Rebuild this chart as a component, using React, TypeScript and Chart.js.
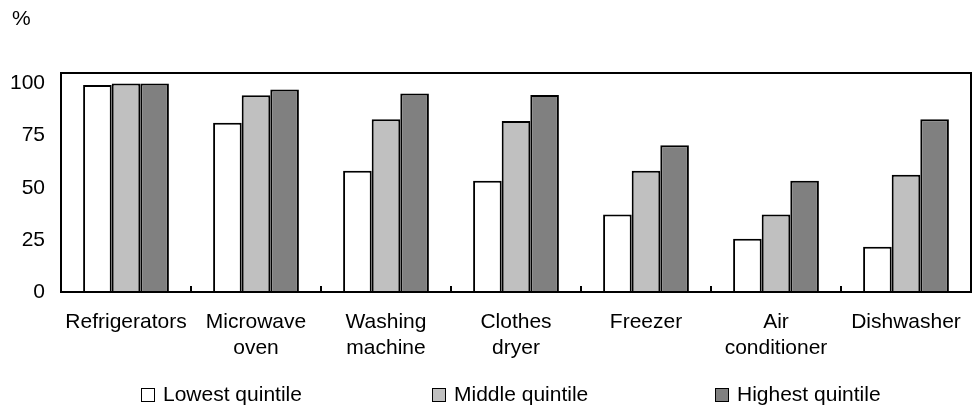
import React, { useEffect, useRef } from "react";
import { Chart, registerables } from "chart.js";

Chart.register(...registerables);

const categories: (string | string[])[] = [
  "Refrigerators",
  ["Microwave", "oven"],
  ["Washing", "machine"],
  ["Clothes", "dryer"],
  "Freezer",
  ["Air", "conditioner"],
  "Dishwasher",
];
const lowestQuintile = [99.2, 81.2, 58.1, 53.3, 37.2, 25.5, 21.7];
const middleQuintile = [100, 94.3, 82.8, 82.0, 58.1, 37.2, 56.2];
const highestQuintile = [100, 97.1, 95.2, 94.4, 70.3, 53.3, 82.8];
const seriesNames = ["Lowest quintile", "Middle quintile", "Highest quintile"];
const seriesColors = ["#ffffff", "#c0c0c0", "#808080"];
const yTicks = [0, 25, 50, 75, 100];

const FONT = "'Liberation Sans', Arial, sans-serif";

const framePlugin = {
  id: "frame",
  afterDraw(chart: any) {
    const { ctx, chartArea } = chart;
    const { left, right, top, bottom } = chartArea;
    ctx.save();
    ctx.strokeStyle = "#000";
    ctx.lineWidth = 2;
    ctx.strokeRect(left, top, right - left, bottom - top);
    const n = categories.length;
    const w = (right - left) / n;
    for (let i = 1; i < n; i++) {
      const x = Math.round(left + i * w);
      ctx.beginPath();
      ctx.moveTo(x, bottom);
      ctx.lineTo(x, bottom - 6);
      ctx.stroke();
    }
    ctx.fillStyle = "#000";
    ctx.font = `21px ${FONT}`;
    ctx.textAlign = "left";
    ctx.textBaseline = "middle";
    ctx.fillText("%", 12, 19);
    ctx.restore();
  },
};

export default function App() {
  const ref = useRef<HTMLCanvasElement | null>(null);
  useEffect(() => {
    if (!ref.current) return;
    const chart = new Chart(ref.current, {
      type: "bar",
      data: {
        labels: categories,
        datasets: [lowestQuintile, middleQuintile, highestQuintile].map((d, i) => ({
          label: seriesNames[i],
          data: d,
          backgroundColor: seriesColors[i],
          borderColor: "#000",
          borderWidth: 2,
          categoryPercentage: 0.66,
          barPercentage: 1,
        })),
      },
      options: {
        animation: false,
        responsive: false,
        maintainAspectRatio: false,
        layout: { padding: { top: 73, right: 4, left: 0, bottom: 0 } },
        plugins: {
          legend: { display: false },
          tooltip: { enabled: false },
          title: { display: false },
        },
        scales: {
          x: {
            grid: { display: false, drawTicks: false },
            border: { display: false },
            ticks: {
              color: "#000",
              font: { family: FONT, size: 21, lineHeight: 1.26 },
              padding: 17,
              maxRotation: 0,
              autoSkip: false,
            },
            afterFit: (s: any) => {
              s.height = 116;
              s.paddingLeft = 0;
              s.paddingRight = 0;
            },
          },
          y: {
            min: 0,
            max: 105,
            grid: { display: false, drawTicks: false },
            border: { display: false },
            afterBuildTicks: (s: any) => {
              s.ticks = yTicks.map((v) => ({ value: v }));
            },
            ticks: {
              color: "#000",
              font: { family: FONT, size: 21 },
              padding: 16,
            },
            afterFit: (s: any) => {
              s.width = 61;
              s.paddingTop = 0;
              s.paddingBottom = 0;
            },
          },
        },
      },
      plugins: [framePlugin],
    });
    return () => chart.destroy();
  }, []);

  const legendX = [141, 432, 715];
  return (
    <div style={{ position: "absolute", left: 0, top: 0, width: 975, height: 408, background: "#fff" }}>
      <canvas ref={ref} width={975} height={408} style={{ position: "absolute", left: 0, top: 0, display: "block" }} />
      {seriesNames.map((name, i) => (
        <div
          key={name}
          style={{
            position: "absolute",
            left: legendX[i],
            top: 382,
            height: 24,
            display: "flex",
            alignItems: "center",
            fontFamily: FONT,
            fontSize: 21,
            color: "#000",
            whiteSpace: "nowrap",
          }}
        >
          <span
            style={{
              display: "inline-block",
              boxSizing: "border-box",
              width: 14,
              height: 14,
              border: "1.5px solid #000",
              background: seriesColors[i],
              marginRight: 8,
              position: "relative",
              top: 1,
            }}
          />
          {name}
        </div>
      ))}
    </div>
  );
}
